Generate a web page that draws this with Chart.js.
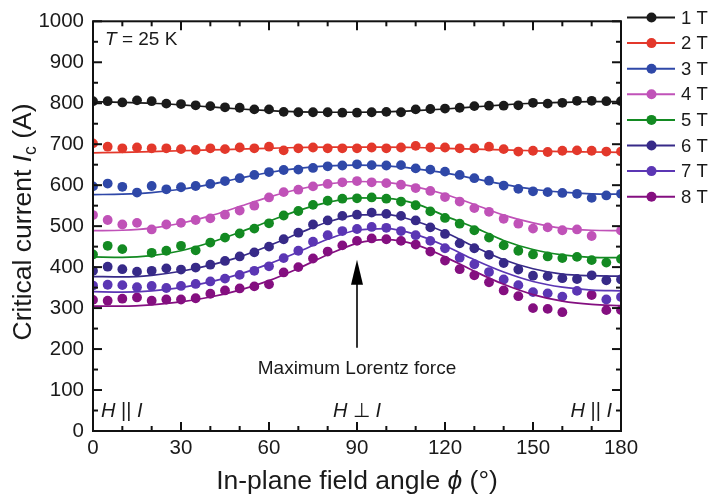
<!DOCTYPE html>
<html><head><meta charset="utf-8">
<script src="https://cdn.jsdelivr.net/npm/chart.js@4.4.0/dist/chart.umd.min.js"></script>
<style>html,body{margin:0;padding:0;background:#fff;}</style>
</head><body>
<canvas id="c" width="710" height="496"></canvas>
<script>
// ---- data ----
const angles = [0,5,10,15,20,25,30,35,40,45,50,55,60,65,70,75,80,85,90,95,100,105,110,115,120,125,130,135,140,145,150,155,160,165,170,175,180];
const fieldLabels = ['1 T','2 T','3 T','4 T','5 T','6 T','7 T','8 T'];
const ic1T = [805,805,802,807,805,799,798,795,793,790,789,785,785,779,778,778,778,777,777,778,779,778,785,786,787,789,793,794,794,795,801,799,801,806,806,805,805];
const ic2T = [702,694,690,692,690,690,688,686,690,688,692,690,694,685,690,692,690,690,690,692,690,692,696,692,692,690,690,694,688,682,684,681,684,685,684,682,682];
const ic3T = [597,604,596,582,598,590,595,598,603,610,617,625,632,637,638,642,646,648,651,649,648,649,641,638,633,625,617,611,599,591,585,583,581,579,569,575,579];
const ic4T = [527,515,504,508,492,504,508,515,519,528,538,550,570,583,589,597,603,607,610,607,605,601,593,586,571,560,544,535,518,506,494,497,490,492,476,null,489];
const ic5T = [431,452,444,null,435,440,452,441,460,472,482,494,507,526,537,552,562,567,568,570,567,560,551,536,520,506,490,472,453,440,431,426,422,425,417,411,420];
const ic6T = [391,401,395,389,391,397,394,399,406,415,426,436,450,468,484,504,514,525,528,533,530,525,514,497,481,458,446,430,410,394,379,378,373,371,380,368,370];
const ic7T = [355,357,356,351,354,349,354,359,365,372,381,391,402,422,440,462,478,488,493,498,496,488,478,464,446,423,407,388,370,356,339,336,328,342,null,321,327];
const ic8T = [320,318,323,326,318,321,321,324,335,343,348,353,358,387,400,421,438,453,464,470,468,464,455,438,416,395,380,363,343,329,300,298,290,null,332,295,295];
// fitted curves (every 10 degrees)
const fitAngles = [0,10,20,30,40,50,60,70,80,90,100,110,120,130,140,150,160,170,180];
const fit1T = [804,802,800,796,791,786,782,779,778,778,779,782,786,791,796,800,802,804,804];
const fit2T = [679,680,682,684,686,688,690,692,693,693,693,692,690,688,686,684,682,681,680];
const fit3T = [577,578,582,590,602,617,631,641,647,649,647,640,630,616,602,590,583,579,578];
const fit4T = [489,490,495,507,525,548,571,590,603,609,607,596,578,553,527,508,495,490,489];
const fit5T = [425,424,428,440,460,485,512,538,558,569,568,555,525,497,465,443,430,424,423];
const fit6T = [377,376,380,390,405,425,452,482,510,527,528,512,485,450,418,396,383,379,378];
const fit7T = [340,339,342,350,364,383,408,437,468,490,494,480,452,418,388,365,351,344,342];
const fit8T = [305,305,308,315,327,344,367,397,430,458,467,455,425,390,358,333,317,309,306];
const xTickStep = 10, xMajor = 30, yTickStep = 50, yMajor = 100;

const colors = ['#1a1a1a','#e3382b','#2f48a8','#c052b8','#138a22','#372a88','#5b36b4','#840f80'];
const pts = [ic1T,ic2T,ic3T,ic4T,ic5T,ic6T,ic7T,ic8T];
const fits = [fit1T,fit2T,fit3T,fit4T,fit5T,fit6T,fit7T,fit8T];
const FONT = "'Liberation Sans', Arial, sans-serif";

const datasets = [];
fits.forEach((f,i)=>{
  datasets.push({label: fieldLabels[i]+' fit', data: fitAngles.map((a,j)=>({x:a,y:f[j]})),
    showLine:true, borderColor: colors[i], borderWidth:1.7, pointRadius:0, tension:0.4,
    cubicInterpolationMode:'monotone', fill:false});
});
pts.forEach((p,i)=>{
  datasets.push({label: fieldLabels[i], data: angles.map((a,j)=>({x:a,y:p[j]})).filter(d=>d.y!==null),
    showLine:false, backgroundColor: colors[i], borderColor: colors[i], borderWidth:0,
    pointRadius:4.9, pointHoverRadius:4.9});
});

function runs(ctx, list, x, y, align){
  let w = 0;
  list.forEach(r=>{ctx.font = r.f; w += ctx.measureText(r.t).width;});
  let cx = align==='center' ? x - w/2 : (align==='right' ? x - w : x);
  list.forEach(r=>{ctx.font = r.f; ctx.fillText(r.t, cx, y + (r.dy||0)); cx += ctx.measureText(r.t).width;});
}

const decor = {
  id:'decor',
  afterDraw(chart){
    const {ctx, chartArea:a, scales:{x,y}} = chart;
    ctx.save();
    ctx.strokeStyle = '#111'; ctx.lineWidth = 2; ctx.lineCap='butt';
    const ln=(x1,y1,x2,y2)=>{ctx.beginPath();ctx.moveTo(x1,y1);ctx.lineTo(x2,y2);ctx.stroke();};
    x.ticks.forEach(t=>{
      const px = x.getPixelForValue(t.value), L = (t.value % xMajor === 0) ? 9 : 5;
      ln(px,a.bottom,px,a.bottom-L); ln(px,a.top,px,a.top+L);
    });
    y.ticks.forEach(t=>{
      const py = y.getPixelForValue(t.value), L = (t.value % yMajor === 0) ? 9 : 5;
      ln(a.left,py,a.left+L,py); ln(a.right,py,a.right-L,py);
    });
    ctx.strokeRect(a.left, a.top, a.right-a.left, a.bottom-a.top);

    // arrow at 90 deg
    const ax = x.getPixelForValue(90), yTip = y.getPixelForValue(418), yEnd = y.getPixelForValue(203);
    ctx.lineWidth = 1.6; ctx.strokeStyle = '#000';
    ln(ax, yEnd, ax, yTip + 20);
    ctx.fillStyle = '#000';
    ctx.beginPath(); ctx.moveTo(ax, yTip); ctx.lineTo(ax-6, yTip+25); ctx.lineTo(ax+6, yTip+25); ctx.closePath(); ctx.fill();

    ctx.fillStyle = '#1a1a1a'; ctx.textBaseline = 'alphabetic';
    const it = s=>`italic ${s}px ${FONT}`, rg = s=>`${s}px ${FONT}`;
    runs(ctx, [{t:'Maximum Lorentz force', f:rg(19)}], ax, 374, 'center');
    runs(ctx, [{t:'T', f:it(19)},{t:' = 25 K', f:rg(19)}], 105, 45, 'left');
    runs(ctx, [{t:'H', f:it(20)},{t:' || ', f:rg(20)},{t:'I', f:it(20)}], 101, 417, 'left');
    runs(ctx, [{t:'H', f:it(20)},{t:' \u22A5 ', f:rg(20)},{t:'I', f:it(20)}], ax, 417, 'center');
    runs(ctx, [{t:'H', f:it(20)},{t:' || ', f:rg(20)},{t:'I', f:it(20)}], 612, 417, 'right');

    // axis titles
    runs(ctx, [{t:'In-plane field angle ', f:rg(26.5)},{t:'\u03D5', f:it(26.5)},{t:' (\u00B0)', f:rg(26.5)}], (a.left+a.right)/2, 489, 'center');
    ctx.save();
    ctx.translate(31, 222); ctx.rotate(-Math.PI/2);
    runs(ctx, [{t:'Critical current ', f:rg(26.5)},{t:'I', f:it(26.5)},{t:'c', f:rg(17.5), dy:5},{t:' (A)', f:rg(26.5)}], 0, 0, 'center');
    ctx.restore();

    // legend
    const ly0 = 17.5, lstep = 25.6;
    fieldLabels.forEach((lab,i)=>{
      const ly = ly0 + i*lstep;
      ctx.strokeStyle = colors[i]; ctx.lineWidth = 2;
      ln(627, ly, 675, ly);
      ctx.fillStyle = colors[i];
      ctx.beginPath(); ctx.arc(651.5, ly, 5, 0, Math.PI*2); ctx.fill();
      ctx.fillStyle = '#1a1a1a'; ctx.font = rg(18.5); ctx.textBaseline='middle';
      ctx.fillText(lab, 681, ly+1);
    });
    ctx.restore();
  }
};

new Chart(document.getElementById('c'), {
  type:'scatter',
  data:{datasets},
  options:{
    responsive:false, animation:false, devicePixelRatio:1,
    layout:{padding:{top:17, right:89, left:0, bottom:0}},
    plugins:{legend:{display:false}, tooltip:{enabled:false}},
    scales:{
      x:{type:'linear', min:0, max:180,
        grid:{display:false, drawTicks:false}, border:{display:false},
        afterFit(s){ s.height = 65; },
        ticks:{stepSize:xTickStep, autoSkip:false, maxRotation:0, padding:5, color:'#1a1a1a',
          font:{family:FONT, size:20.5},
          callback:v=> (v % xMajor === 0) ? String(v) : ''}},
      y:{type:'linear', min:0, max:1000,
        grid:{display:false, drawTicks:false}, border:{display:false},
        afterFit(s){ s.width = 93; },
        ticks:{stepSize:yTickStep, autoSkip:false, padding:9, color:'#1a1a1a',
          font:{family:FONT, size:20.5},
          callback:v=> (v % yMajor === 0) ? String(v) : ''}}
    }
  },
  plugins:[decor]
});
</script>
</body></html>
